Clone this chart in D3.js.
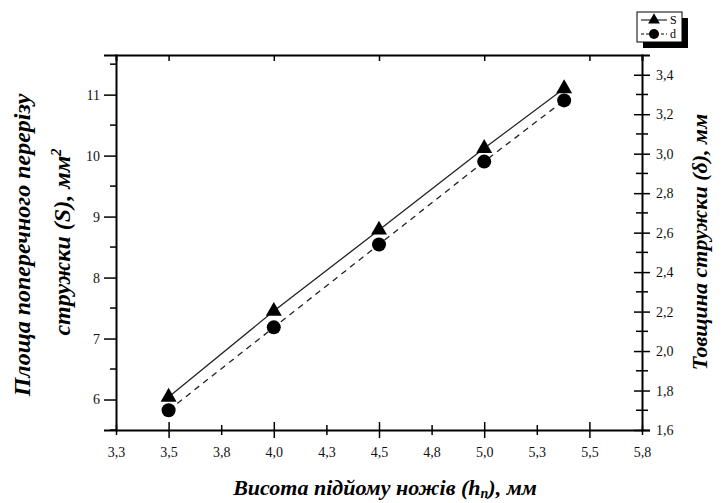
<!DOCTYPE html>
<html lang="uk">
<head>
	<meta charset="utf-8" />
	<title>Chip section vs knife lift</title>
	<style>
		* { margin: 0; padding: 0; }
		body { background: white; width: 726px; height: 503px; overflow: hidden; }
		svg { display: block; }
		.tick text { font-family: "Liberation Serif", serif; font-size: 14px; fill: #111; }
		.title { font-family: "Liberation Serif", serif; font-size: 24px; font-weight: bold; font-style: italic; fill: black; }
	</style>
</head>
<body>
<script src="https://d3js.org/d3.v7.min.js"></script>
<div id="chart"></div>
<script>

	// knife lift height, mm
	var hValues = [3.5, 4.0, 4.5, 5.0, 5.38];
	// cross-section area S, mm2 (left axis)
	var sValues = [6.04, 7.45, 8.78, 10.12, 11.1];
	// chip thickness d, mm (right axis)
	var dValues = [1.70, 2.12, 2.54, 2.96, 3.27];

	var xTicks = [3.25, 3.5, 3.75, 4.0, 4.25, 4.5, 4.75, 5.0, 5.25, 5.5, 5.75];
	var xTickLabels = ["3,3", "3,5", "3,8", "4,0", "4,3", "4,5", "4,8", "5,0", "5,3", "5,5", "5,8"];
	var leftTicks = [6, 7, 8, 9, 10, 11];
	var leftMinor = [5.5, 6.5, 7.5, 8.5, 9.5, 10.5, 11.5];
	var rightTicks = [1.6, 1.8, 2.0, 2.2, 2.4, 2.6, 2.8, 3.0, 3.2, 3.4];
	var rightMinor = [1.7, 1.9, 2.1, 2.3, 2.5, 2.7, 2.9, 3.1, 3.3];
	var legendNames = ["S", "d"];

	var W = 726, H = 503;
	var pL = 116, pR = 642, pT = 55, pB = 430;

	var svg = d3.select("#chart").append("svg")
		.attr("width", W)
		.attr("height", H);

	var x = d3.scaleLinear().domain([3.25, 5.75]).range([pL, pR]);
	var yL = d3.scaleLinear().domain([5.5, 11.65]).range([pB, pT]);
	var yR = d3.scaleLinear().domain([1.6, 3.5]).range([pB, pT]);

	var fmtR = function(d) { return d.toFixed(1).replace(".", ","); };
	var isMajorX = function(d) { return (d * 2) % 1 == 0; };

	// x axis: ticks cross the line
	var gx = svg.append("g")
		.attr("transform", "translate(0," + pB + ")")
		.call(d3.axisBottom(x).tickValues(xTicks)
			.tickFormat(function(d, i) { return xTickLabels[i]; })
			.tickSize(0).tickPadding(17));
	gx.select(".domain").attr("stroke", "black").attr("stroke-width", 2);
	gx.selectAll(".tick").append("line")
		.attr("stroke", "black").attr("stroke-width", 1.5)
		.attr("y1", function(d) { return isMajorX(d) ? -8 : -5; })
		.attr("y2", function(d) { return isMajorX(d) ? 8 : 5; });

	// top edge with inward ticks
	var gt = svg.append("g")
		.attr("transform", "translate(0," + pT + ")")
		.call(d3.axisBottom(x).tickValues(xTicks.filter(isMajorX))
			.tickSize(6).tickFormat(""));
	gt.select(".domain").attr("stroke", "black").attr("stroke-width", 2);
	gt.selectAll(".tick line").attr("stroke", "black").attr("stroke-width", 1.5);

	// left axis
	var gl = svg.append("g")
		.attr("transform", "translate(" + pL + ",0)")
		.call(d3.axisLeft(yL).tickValues(leftTicks).tickFormat(d3.format("d")).tickSize(12).tickPadding(4));
	gl.select(".domain").attr("stroke", "black").attr("stroke-width", 2);
	gl.selectAll(".tick line").attr("stroke", "black").attr("stroke-width", 1.5);
	gl.selectAll(".minor").data(leftMinor).enter().append("line")
		.attr("class", "minor")
		.attr("x1", -6).attr("x2", 0)
		.attr("y1", function(d) { return yL(d); })
		.attr("y2", function(d) { return yL(d); })
		.attr("stroke", "black").attr("stroke-width", 1.5);

	// right axis: crossing ticks
	var gr = svg.append("g")
		.attr("transform", "translate(" + pR + ",0)")
		.call(d3.axisRight(yR).tickValues(rightTicks).tickFormat(fmtR).tickSize(8).tickPadding(6));
	gr.select(".domain").attr("stroke", "black").attr("stroke-width", 2);
	gr.selectAll(".tick line").attr("x1", -8).attr("stroke", "black").attr("stroke-width", 1.5);
	gr.selectAll(".minor").data(rightMinor).enter().append("line")
		.attr("class", "minor")
		.attr("x1", -6).attr("x2", 6)
		.attr("y1", function(d) { return yR(d); })
		.attr("y2", function(d) { return yR(d); })
		.attr("stroke", "black").attr("stroke-width", 1.5);

	// series
	var sPts = hValues.map(function(h, i) { return [x(h), yL(sValues[i])]; });
	var dPts = hValues.map(function(h, i) { return [x(h), yR(dValues[i])]; });

	svg.append("path")
		.attr("d", d3.line()(sPts))
		.attr("fill", "none").attr("stroke", "#222").attr("stroke-width", 1.3);
	svg.append("path")
		.attr("d", d3.line()(dPts))
		.attr("fill", "none").attr("stroke", "#222").attr("stroke-width", 1.3)
		.attr("stroke-dasharray", "6,5");

	var tri = d3.symbol().type(d3.symbolTriangle).size(110);
	svg.selectAll(".tri").data(sPts).enter().append("path")
		.attr("class", "tri")
		.attr("d", tri)
		.attr("transform", function(p) { return "translate(" + p[0] + "," + p[1] + ")"; })
		.attr("fill", "black");
	svg.selectAll(".dot").data(dPts).enter().append("circle")
		.attr("class", "dot")
		.attr("cx", function(p) { return p[0]; })
		.attr("cy", function(p) { return p[1]; })
		.attr("r", 7)
		.attr("fill", "black");

	// legend with drop shadow
	var lg = svg.append("g").attr("transform", "translate(637,12)");
	lg.append("rect").attr("x", 6).attr("y", 6).attr("width", 45).attr("height", 30).attr("fill", "black");
	lg.append("rect").attr("width", 45).attr("height", 30).attr("fill", "white").attr("stroke", "black").attr("stroke-width", 1);
	legendNames.forEach(function(name, i) {
		var cy = 8 + i * 14;
		lg.append("line").attr("x1", 4).attr("x2", 30).attr("y1", cy).attr("y2", cy)
			.attr("stroke", "black").attr("stroke-width", 1)
			.attr("stroke-dasharray", i == 0 ? null : "3,2");
		if (i == 0) {
			lg.append("path").attr("d", d3.symbol().type(d3.symbolTriangle).size(60)())
				.attr("transform", "translate(17," + cy + ")").attr("fill", "black");
		} else {
			lg.append("circle").attr("cx", 17).attr("cy", cy).attr("r", 5).attr("fill", "black");
		}
		lg.append("text").attr("x", 33).attr("y", cy + 4)
			.style("font-family", "Liberation Serif").style("font-size", "12px")
			.text(name);
	});

	// axis titles
	svg.append("text").attr("class", "title")
		.attr("transform", "translate(30,245) rotate(-90)")
		.attr("text-anchor", "middle")
		.text("Площа поперечного перерізу");
	var lt2 = svg.append("text").attr("class", "title")
		.attr("transform", "translate(70,242) rotate(-90)")
		.attr("text-anchor", "middle");
	lt2.append("tspan").text("стружки (S), мм");
	lt2.append("tspan").attr("dy", -9).style("font-size", "15px").text("2");

	svg.append("text").attr("class", "title")
		.style("font-size", "22px")
		.attr("transform", "translate(707,242) rotate(-90)")
		.attr("text-anchor", "middle")
		.text("Товщина стружки (δ), мм");

	var xt = svg.append("text").attr("class", "title")
		.style("font-size", "22px")
		.attr("x", 385).attr("y", 495)
		.attr("text-anchor", "middle");
	xt.append("tspan").text("Висота підйому ножів (h");
	xt.append("tspan").attr("dy", 3).style("font-size", "14px").text("n");
	xt.append("tspan").attr("dy", -3).text("), мм");

</script>
</body>
</html>
